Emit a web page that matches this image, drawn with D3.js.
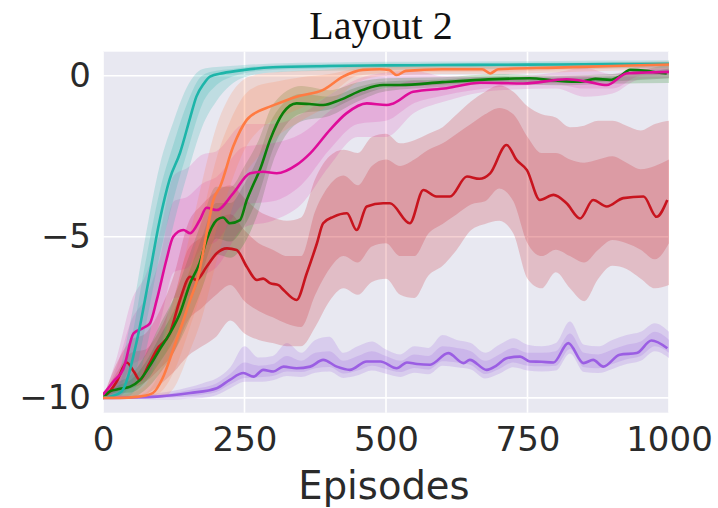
<!DOCTYPE html>
<html>
<head>
<meta charset="utf-8">
<script src="https://cdn.jsdelivr.net/npm/d3@7"></script>
<style>
  html, body { margin: 0; padding: 0; background: #ffffff; }
  svg { display: block; }
</style>
</head>
<body>
<svg id="chart" width="718" height="508"></svg>
<script>
// ---------------- DATA ----------------
const titleText = "Layout 2";
const xLabelText = "Episodes";
const xTicks = [0, 250, 500, 750, 1000];
const yTicks = [0, -5, -10];
const xLimits = [0, 1000];
const yLimits = [-10.46, 0.745];

// Teal series
const tealX    = [0,15,33,45,55,65,80,100,118,136,154,165,178,189,212,250,300,400,500,600,700,800,900,1000];
const tealMean = [-10,-9.95,-9.8,-9.3,-8.6,-7.8,-6.4,-4.5,-3.2,-2.4,-1.3,-0.65,-0.25,-0.03,0.08,0.18,0.26,0.3,0.32,0.33,0.34,0.35,0.36,0.37];
const tealBandX = [0,25,50,75,100,125,150,175,200,225,250,300,400,500,600,700,800,900,1000];
const tealLo2 = [-10,-10,-9.9,-8.6,-6.5,-4.6,-3.0,-1.6,-0.8,-0.3,-0.05,0.1,0.15,0.18,0.2,0.21,0.22,0.23,0.24];
const tealLo1 = [-10,-9.95,-9.6,-7.8,-5.6,-3.8,-2.3,-0.9,-0.3,-0.05,0.08,0.18,0.22,0.25,0.26,0.27,0.28,0.29,0.3];
const tealHi1 = [-10,-9.7,-8.2,-5.8,-3.6,-2.1,-0.8,0.0,0.15,0.2,0.26,0.32,0.36,0.38,0.39,0.4,0.41,0.42,0.43];
const tealHi2 = [-10,-9.4,-7.5,-5.0,-2.8,-1.4,-0.3,0.2,0.27,0.3,0.33,0.38,0.41,0.43,0.44,0.45,0.46,0.47,0.48];

// Orange series
const orangeX    = [0,30,60,88,105,124,140,154,168,183,195,207,230,254,275,295,342,389,424,459,489,505,519,535,600,670,684,698,800,900,1000];
const orangeMean = [-10,-10,-9.97,-9.85,-9.4,-8.5,-7.7,-6.96,-6.24,-4.9,-3.86,-3.44,-2.2,-1.37,-1.1,-0.96,-0.65,-0.44,-0.03,0.18,0.2,0.18,0.02,0.15,0.2,0.2,0.07,0.2,0.25,0.3,0.35];
const orangeBandX = [0,25,50,75,100,125,150,175,200,225,250,275,300,350,400,450,500,600,700,800,900,1000];
const orangeLo2 = [-10,-10,-10,-10,-10,-9.7,-8.7,-7.5,-5.8,-4.3,-3.1,-2.5,-2.0,-1.4,-0.9,-0.2,0.0,0.05,0.05,0.1,0.15,0.2];
const orangeLo1 = [-10,-10,-10,-10,-9.85,-9.2,-8.0,-6.6,-4.8,-3.4,-2.3,-1.7,-1.4,-1.0,-0.6,0.0,0.08,0.12,0.12,0.17,0.22,0.27];
const orangeHi1 = [-10,-9.97,-9.95,-9.85,-9.2,-7.8,-6.2,-4.4,-2.6,-1.4,-0.6,-0.3,-0.2,-0.05,0.05,0.22,0.26,0.27,0.27,0.31,0.36,0.4];
const orangeHi2 = [-10,-9.93,-9.85,-9.6,-8.6,-7.0,-5.2,-3.3,-1.6,-0.6,-0.1,0.05,0.1,0.15,0.2,0.3,0.3,0.32,0.32,0.35,0.4,0.45];

// Green series
const greenX    = [0,12,30,48,65,83,100,118,136,154,171,183,201,212,224,242,254,265,277,295,318,342,365,389,419,459,495,525,600,666,754,800,843,870,896,915,931,960,980,996];
const greenMean = [-10,-9.8,-9.72,-9.65,-9.45,-9.0,-8.5,-8.0,-7.37,-6.44,-5.8,-5.1,-4.48,-4.4,-4.58,-4.48,-3.86,-3.4,-2.93,-2.0,-1.16,-0.86,-0.88,-0.91,-0.75,-0.44,-0.29,-0.29,-0.2,-0.13,-0.08,-0.15,-0.19,-0.1,-0.13,0.0,0.18,0.15,0.1,0.07];
const greenBandX = [0,25,50,75,100,125,150,175,200,225,250,275,300,350,400,450,500,600,700,800,900,1000];
const greenLo2 = [-10,-9.94,-9.98,-9.75,-9.25,-8.6,-7.7,-6.6,-5.55,-5.65,-5.2,-4.2,-2.7,-1.42,-1.25,-0.8,-0.48,-0.35,-0.25,-0.3,-0.25,-0.23];
const greenLo1 = [-10,-9.84,-9.83,-9.5,-8.9,-8.2,-7.2,-6.1,-5.05,-5.15,-4.65,-3.7,-2.3,-1.17,-1.05,-0.65,-0.38,-0.28,-0.18,-0.23,-0.18,-0.08];
const greenHi1 = [-10,-9.64,-9.43,-8.9,-8.1,-7.3,-6.2,-5.0,-3.95,-3.95,-3.35,-2.5,-1.3,-0.57,-0.65,-0.35,-0.18,-0.12,-0.02,-0.07,-0.02,0.22];
const greenHi2 = [-10,-9.54,-9.28,-8.65,-7.75,-6.9,-5.7,-4.5,-3.45,-3.45,-2.8,-2.0,-0.9,-0.32,-0.45,-0.2,-0.08,-0.05,0.05,0.0,0.05,0.37];

// Magenta series
const magentaX    = [0,18,36,54,71,83,95,112,124,142,154,171,183,201,230,260,283,307,342,366,401,430,466,501,513,548,607,666,743,819,860,890,925,960,1000];
const magentaMean = [-9.9,-9.5,-9.1,-8.0,-7.83,-7.68,-6.96,-5.72,-5.0,-4.79,-4.89,-4.48,-4.1,-4.17,-3.65,-3.03,-2.98,-3.03,-2.77,-2.41,-1.68,-1.17,-0.86,-0.91,-0.86,-0.5,-0.39,-0.22,-0.24,-0.11,-0.2,-0.29,0.07,0.1,0.12];
const magentaBandX = [0,25,50,75,100,125,150,175,200,250,300,350,400,450,500,550,600,700,800,850,900,950,1000];
const magentaLo2 = [-10,-10,-9.6,-9.4,-8.5,-6.9,-6.85,-6.25,-5.95,-4.7,-4.5,-4.0,-2.8,-1.9,-1.9,-1.15,-0.82,-0.45,-0.4,-0.65,-0.55,-0.1,-0.08];
const magentaLo1 = [-10,-9.8,-9.0,-8.7,-7.7,-6.1,-5.95,-5.35,-5.15,-4.0,-3.9,-3.4,-2.3,-1.5,-1.4,-0.85,-0.62,-0.35,-0.27,-0.4,-0.4,0.0,0.02];
const magentaHi1 = [-10,-9.0,-7.6,-6.9,-5.7,-3.9,-3.75,-3.35,-3.15,-2.2,-2.1,-1.8,-1.1,-0.5,-0.4,-0.15,-0.22,-0.15,-0.03,0.0,-0.1,0.2,0.22];
const magentaHi2 = [-10,-8.7,-7.0,-6.2,-4.9,-3.1,-2.85,-2.45,-2.35,-1.5,-1.5,-1.2,-0.6,-0.1,0.1,0.15,-0.02,-0.05,0.1,0.25,0.05,0.3,0.32];

// Red series
const redX    = [0,12,24,42,55,65,80,95,118,136,154,165,183,201,219,236,254,272,283,295,310,319,342,360,378,389,407,431,448,466,495,507,542,566,589,613,643,665,684,713,731,749,772,796,819,843,866,890,919,955,978,997];
const redMean = [-10,-9.8,-9.5,-8.9,-9.2,-9.45,-9.0,-8.5,-8.0,-6.96,-6.24,-6.34,-5.93,-5.51,-5.36,-5.41,-5.93,-6.34,-6.3,-6.44,-6.5,-6.65,-6.96,-6.13,-5.2,-4.58,-4.38,-4.27,-4.79,-4.06,-3.96,-3.96,-4.58,-3.55,-3.75,-3.75,-3.13,-3.2,-3.03,-2.15,-2.62,-2.93,-3.86,-3.7,-3.96,-4.43,-3.86,-4.06,-3.8,-3.75,-4.38,-3.86];
const redBandX = [0,25,50,75,100,125,150,175,200,225,250,275,300,325,350,375,400,425,450,475,500,525,550,575,600,625,650,675,700,725,750,775,800,825,850,875,900,925,950,975,1000];
const redLo2 = [-10,-10,-10,-9.9,-9.6,-9.2,-8.7,-8.4,-8.1,-7.6,-8.0,-8.2,-8.3,-8.4,-8.4,-7.8,-7.0,-6.6,-6.8,-6.4,-6.3,-6.8,-6.9,-6.2,-5.9,-5.4,-4.8,-4.6,-4.5,-4.9,-6.3,-6.6,-6.1,-6.6,-7.0,-6.3,-5.9,-6.0,-6.3,-6.6,-6.5];
const redLo1 = [-10,-9.8,-9.7,-9.5,-9.1,-8.6,-7.6,-7.2,-6.8,-6.5,-7.0,-7.3,-7.5,-7.7,-7.8,-6.8,-6.0,-5.6,-5.8,-5.3,-5.2,-5.6,-5.6,-4.9,-4.6,-4.3,-4.0,-3.9,-3.5,-3.9,-5.2,-5.6,-5.4,-5.6,-5.8,-5.4,-5.1,-5.2,-5.4,-5.7,-5.2];
const redHi1 = [-10,-9.2,-8.6,-8.5,-7.9,-6.9,-5.4,-5.0,-4.5,-4.3,-4.8,-5.2,-5.4,-5.6,-5.6,-4.2,-3.4,-3.1,-3.4,-2.8,-2.6,-2.8,-2.6,-2.3,-2.1,-1.8,-1.5,-1.2,-1.0,-1.2,-1.9,-2.4,-2.4,-2.6,-2.7,-2.6,-2.5,-2.7,-2.9,-2.8,-2.6];
const redHi2 = [-10,-8.9,-8.2,-8.0,-7.3,-6.2,-4.6,-4.0,-3.6,-3.4,-3.8,-4.2,-4.4,-4.5,-4.4,-3.2,-2.5,-2.3,-2.4,-1.9,-1.8,-2.1,-2.0,-1.8,-1.6,-1.2,-0.8,-0.5,-0.3,-0.5,-0.95,-1.2,-1.3,-1.6,-1.55,-1.4,-1.4,-1.55,-1.7,-1.5,-1.4];

// Purple series
const purpleX    = [0,95,154,201,224,248,266,283,301,319,342,366,389,413,436,466,490,519,537,555,578,610,637,648,678,695,713,737,754,775,796,822,849,866,884,913,943,969,997];
const purpleMean = [-10,-9.96,-9.85,-9.7,-9.44,-9.23,-9.34,-9.13,-9.18,-9.03,-9.08,-9.03,-8.82,-9.03,-9.13,-8.87,-8.87,-9.08,-8.9,-8.95,-8.97,-8.61,-8.92,-8.82,-9.13,-9.0,-8.77,-8.72,-8.87,-8.88,-8.9,-8.3,-8.92,-8.82,-9.03,-8.66,-8.61,-8.22,-8.46];
const purpleBandX = [0,25,50,75,100,125,150,175,200,225,250,275,300,325,350,375,400,425,450,475,500,525,550,575,600,625,650,675,700,725,750,775,800,825,850,875,900,925,950,975,1000];
const purpleLo2 = [-10,-10.02,-10.03,-10.04,-10.05,-10.05,-10.03,-10.0,-9.92,-9.7,-9.5,-9.5,-9.45,-9.32,-9.35,-9.22,-9.18,-9.38,-9.3,-9.15,-9.25,-9.35,-9.22,-9.27,-9.0,-9.05,-9.12,-9.4,-9.25,-9.05,-9.15,-9.18,-9.15,-8.62,-9.2,-9.23,-9.1,-8.95,-8.85,-8.55,-8.76];
const purpleLo1 = [-10,-10.01,-10.01,-10.01,-10.0,-9.99,-9.95,-9.9,-9.82,-9.58,-9.38,-9.36,-9.32,-9.18,-9.2,-9.08,-9.04,-9.24,-9.15,-9.0,-9.1,-9.2,-9.07,-9.12,-8.86,-8.9,-8.98,-9.26,-9.1,-8.9,-9.0,-9.02,-9.0,-8.48,-9.05,-9.08,-8.95,-8.8,-8.7,-8.4,-8.6];
const purpleHi1 = [-10,-9.99,-9.98,-9.95,-9.9,-9.85,-9.76,-9.68,-9.55,-9.25,-8.9,-9.0,-8.95,-8.7,-8.85,-8.6,-8.55,-8.85,-8.7,-8.55,-8.7,-8.85,-8.65,-8.7,-8.4,-8.45,-8.55,-8.85,-8.65,-8.45,-8.6,-8.6,-8.55,-8.0,-8.6,-8.65,-8.5,-8.35,-8.25,-7.95,-8.2];
const purpleHi2 = [-10,-9.98,-9.96,-9.92,-9.85,-9.78,-9.68,-9.55,-9.4,-9.05,-8.4,-8.75,-8.7,-8.3,-8.6,-8.2,-8.1,-8.6,-8.4,-8.25,-8.5,-8.65,-8.4,-8.45,-8.05,-8.2,-8.3,-8.6,-8.35,-8.15,-8.35,-8.4,-8.3,-7.63,-8.35,-8.4,-8.2,-8.05,-7.95,-7.68,-7.95];

const seriesNames  = ["purple", "red", "green", "magenta", "teal", "orange"];
const seriesColors = ["#9b5ee3", "#c8141e", "#0a7f0a", "#df0c9a", "#1db5a9", "#ff7b42"];
const bandOpacity  = [0.2, 0.2, 0.2, 0.14, 0.2, 0.18];

// ---------------- BUILD ----------------
const seriesData = {
  purple:  {x: purpleX,  m: purpleMean,  bx: purpleBandX,  lo2: purpleLo2,  lo1: purpleLo1,  hi1: purpleHi1,  hi2: purpleHi2},
  red:     {x: redX,     m: redMean,     bx: redBandX,     lo2: redLo2,     lo1: redLo1,     hi1: redHi1,     hi2: redHi2},
  green:   {x: greenX,   m: greenMean,   bx: greenBandX,   lo2: greenLo2,   lo1: greenLo1,   hi1: greenHi1,   hi2: greenHi2},
  magenta: {x: magentaX, m: magentaMean, bx: magentaBandX, lo2: magentaLo2, lo1: magentaLo1, hi1: magentaHi1, hi2: magentaHi2},
  teal:    {x: tealX,    m: tealMean,    bx: tealBandX,    lo2: tealLo2,    lo1: tealLo1,    hi1: tealHi1,    hi2: tealHi2},
  orange:  {x: orangeX,  m: orangeMean,  bx: orangeBandX,  lo2: orangeLo2,  lo1: orangeLo1,  hi1: orangeHi1,  hi2: orangeHi2}
};

const svg = d3.select("#chart");
const left = 103, right = 669;
const yTop = 51.7, yBottom = 412.7;

const x = d3.scaleLinear().domain(xLimits).range([left, right]);
const y = d3.scaleLinear().domain(yLimits).range([yBottom, yTop]);

// background
svg.append("rect")
  .attr("x", left).attr("y", yTop)
  .attr("width", right - left).attr("height", yBottom - yTop)
  .attr("fill", "#e8e8f1");

// grid
const grid = svg.append("g");
grid.selectAll("line.v").data(xTicks).join("line")
  .attr("x1", d => x(d)).attr("x2", d => x(d))
  .attr("y1", yTop).attr("y2", yBottom)
  .attr("stroke", "#ffffff").attr("stroke-width", 1.6);
grid.selectAll("line.h").data(yTicks).join("line")
  .attr("x1", left).attr("x2", right)
  .attr("y1", d => y(d)).attr("y2", d => y(d))
  .attr("stroke", "#ffffff").attr("stroke-width", 1.6);

svg.append("clipPath").attr("id", "clip")
  .append("rect").attr("x", left).attr("y", yTop)
  .attr("width", right - left).attr("height", yBottom - yTop);

const plot = svg.append("g").attr("clip-path", "url(#clip)");

const area = (lo, hi) => d3.area()
  .x((d, i) => x(d))
  .y0((d, i) => y(lo[i]))
  .y1((d, i) => y(hi[i]))
  .curve(d3.curveMonotoneX);

// bands
seriesNames.forEach((name, k) => {
  const s = seriesData[name];
  const c = seriesColors[k];
  plot.append("path").datum(s.bx)
    .attr("d", area(s.lo2, s.hi2))
    .attr("fill", c).attr("fill-opacity", bandOpacity[k]);
  plot.append("path").datum(s.bx)
    .attr("d", area(s.lo1, s.hi1))
    .attr("fill", c).attr("fill-opacity", bandOpacity[k]);
});

// mean lines
seriesNames.forEach((name, k) => {
  const s = seriesData[name];
  const line = d3.line()
    .x((d, i) => x(s.x[i]))
    .y((d, i) => y(s.m[i]))
    .curve(d3.curveMonotoneX);
  plot.append("path").datum(s.m)
    .attr("d", line)
    .attr("fill", "none")
    .attr("stroke", seriesColors[k])
    .attr("stroke-width", 2.6)
    .attr("stroke-linejoin", "round");
});

// axes
const xAxis = d3.axisBottom(x).tickValues(xTicks).tickSize(0).tickPadding(14)
  .tickFormat(d3.format("d"));
const gx = svg.append("g").attr("transform", `translate(0,${yBottom})`).call(xAxis);
gx.select(".domain").remove();
gx.selectAll("text")
  .attr("font-family", "DejaVu Sans, sans-serif")
  .attr("font-size", 34).attr("fill", "#2a2a2a");

const yAxis = d3.axisLeft(y).tickValues(yTicks).tickSize(0).tickPadding(12)
  .tickFormat(d => d < 0 ? "\u2212" + Math.abs(d) : String(d));
const gy = svg.append("g").attr("transform", `translate(${left},0)`).call(yAxis);
gy.select(".domain").remove();
gy.selectAll("text")
  .attr("font-family", "DejaVu Sans, sans-serif")
  .attr("font-size", 34).attr("fill", "#2a2a2a");

// title
svg.append("text")
  .attr("x", 381).attr("y", 39)
  .attr("text-anchor", "middle")
  .attr("font-family", "Liberation Serif, serif")
  .attr("font-size", 40)
  .attr("fill", "#111")
  .text(titleText);

// x label
svg.append("text")
  .attr("x", 384).attr("y", 499)
  .attr("text-anchor", "middle")
  .attr("font-family", "DejaVu Sans, sans-serif")
  .attr("font-size", 38.5)
  .attr("fill", "#2a2a2a")
  .text(xLabelText);
</script>
</body>
</html>
